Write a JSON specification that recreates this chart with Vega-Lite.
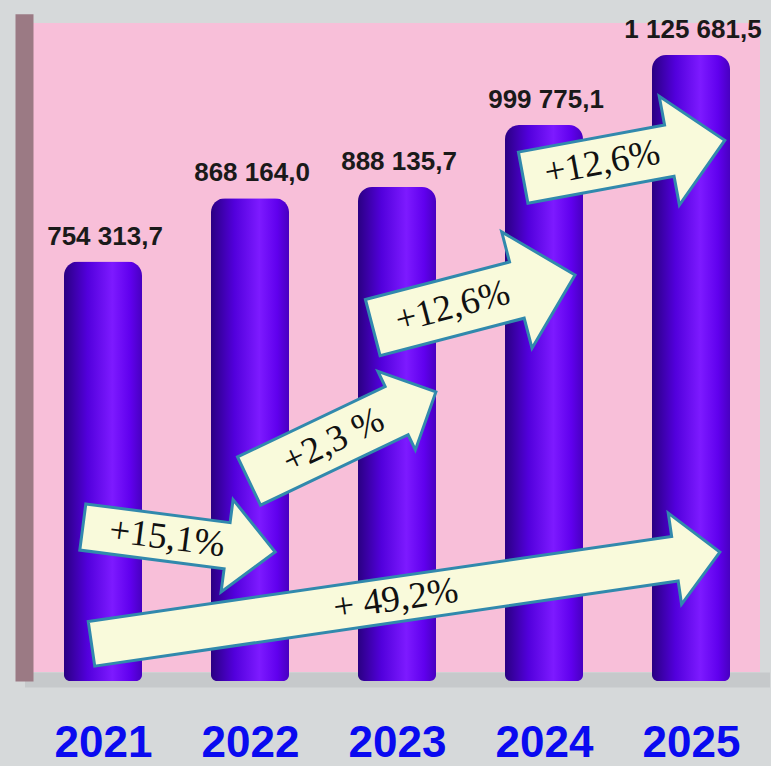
{
  "$schema": "https://vega.github.io/schema/vega-lite/v6.json",
  "width": 727,
  "height": 649,
  "autosize": {"type": "none"},
  "padding": {"left": 33, "top": 23, "right": 11, "bottom": 94},
  "config": {
    "background": "#d6d9da",
    "view": {"fill": "#f8bfd9", "stroke": null},
    "locale": {"number": {"decimal": ",", "thousands": " ", "grouping": [3], "currency": ["", ""]}}
  },
  "datasets": {
    "bars": [
      {"year": 2021, "value": 754313.7},
      {"year": 2022, "value": 868164.0},
      {"year": 2023, "value": 888135.7},
      {"year": 2024, "value": 999775.1},
      {"year": 2025, "value": 1125681.5}
    ],
    "arrows": [
      {"id": "a1", "year": 2021.517, "value": 254445, "label": "+15,1%"},
      {"id": "a2", "year": 2022.629, "value": 439660, "label": "+2,3 %"},
      {"id": "a3", "year": 2023.523, "value": 682866, "label": "+12,6%"},
      {"id": "a4", "year": 2024.544, "value": 938660, "label": "+12,6%"},
      {"id": "a5", "year": 2023.059, "value": 149251, "label": "+ 49,2%"}
    ]
  },
  "encoding": {
    "x": {
      "field": "year", "type": "quantitative",
      "scale": {"domain": [2020.5, 2025.5], "range": [-8.5, 736.5], "nice": false, "zero": false},
      "axis": {
        "values": [2021, 2022, 2023, 2024, 2025], "format": "d", "title": null,
        "grid": false, "ticks": false, "tickSize": 0, "offset": 7.5,
        "domainWidth": 15, "domainColor": "#c6c9cb",
        "labelFont": "Liberation Sans", "labelFontWeight": "bold", "labelFontSize": 44,
        "labelColor": "#0a0af0", "labelBaseline": "alphabetic", "labelPadding": 77, "labelDx": -1,
        "labelFlush": false, "labelOverlap": false
      }
    },
    "y": {
      "field": "value", "type": "quantitative",
      "scale": {"domain": [0, 1200000], "range": [658, -9.3], "nice": false, "zero": true},
      "axis": {
        "title": null, "labels": false, "ticks": false, "grid": false,
        "offset": 9, "domainWidth": 18, "domainColor": "#9b7a84"
      }
    }
  },
  "layer": [
    {
      "data": {"name": "bars"},
      "mark": {
        "type": "bar", "size": 78,
        "cornerRadiusTopLeft": 14, "cornerRadiusTopRight": 14,
        "cornerRadiusBottomLeft": 6, "cornerRadiusBottomRight": 6,
        "color": {
          "gradient": "linear", "x1": 0, "x2": 1, "y1": 0, "y2": 0,
          "stops": [
            {"offset": 0, "color": "#2a0082"},
            {"offset": 0.3, "color": "#5200dc"},
            {"offset": 0.62, "color": "#7d1aff"},
            {"offset": 0.85, "color": "#6000ee"},
            {"offset": 1, "color": "#4800c0"}
          ]
        }
      }
    },
    {
      "data": {"name": "bars"},
      "mark": {
        "type": "text", "font": "Liberation Sans", "fontWeight": "bold", "fontSize": 26,
        "color": "#1a1a1a", "align": "center", "baseline": "alphabetic", "dy": -17, "dx": 2
      },
      "encoding": {"text": {"field": "value", "type": "quantitative", "format": ",.1f"}}
    },
    {
      "data": {"name": "arrows"},
      "transform": [{"filter": "datum.id === 'a5'"}],
      "mark": {
        "type": "point", "filled": true, "opacity": 1, "fill": "#f9fadb", "stroke": "#3189ad", "strokeWidth": 3,
        "shape": "M-1,-0.071L0.857,-0.071L0.857,-0.145L1,0L0.857,0.145L0.857,0.071L-1,0.071Z",
        "size": 403225, "angle": -8.3
      }
    },
    {
      "data": {"name": "arrows"},
      "transform": [{"filter": "datum.id === 'a1'"}],
      "mark": {
        "type": "point", "filled": true, "opacity": 1, "fill": "#f9fadb", "stroke": "#3189ad", "strokeWidth": 3,
        "shape": "M-1,-0.24L0.5,-0.24L0.5,-0.48L1,0L0.5,0.48L0.5,0.24L-1,0.24Z",
        "size": 37636, "angle": 7.4
      }
    },
    {
      "data": {"name": "arrows"},
      "transform": [{"filter": "datum.id === 'a2'"}],
      "mark": {
        "type": "point", "filled": true, "opacity": 1, "fill": "#f9fadb", "stroke": "#3189ad", "strokeWidth": 3,
        "shape": "M-1,-0.258L0.58,-0.258L0.58,-0.42L1,0L0.58,0.42L0.58,0.258L-1,0.258Z",
        "size": 42849, "angle": -25.5
      }
    },
    {
      "data": {"name": "arrows"},
      "transform": [{"filter": "datum.id === 'a3'"}],
      "mark": {
        "type": "point", "filled": true, "opacity": 1, "fill": "#f9fadb", "stroke": "#3189ad", "strokeWidth": 3,
        "shape": "M-1,-0.278L0.425,-0.278L0.425,-0.575L1,0L0.425,0.575L0.425,0.278L-1,0.278Z",
        "size": 43681, "angle": -14.6
      }
    },
    {
      "data": {"name": "arrows"},
      "transform": [{"filter": "datum.id === 'a4'"}],
      "mark": {
        "type": "point", "filled": true, "opacity": 1, "fill": "#f9fadb", "stroke": "#3189ad", "strokeWidth": 3,
        "shape": "M-1,-0.254L0.45,-0.254L0.45,-0.54L1,0L0.45,0.54L0.45,0.254L-1,0.254Z",
        "size": 42025, "angle": -10.5
      }
    },
    {
      "data": {"name": "arrows"},
      "transform": [{"filter": "datum.id === 'a5'"}],
      "mark": {"type": "text", "font": "Liberation Serif", "fontSize": 37, "color": "#111111", "align": "center", "baseline": "middle", "angle": -8.3, "dx": -10},
      "encoding": {"text": {"field": "label"}}
    },
    {
      "data": {"name": "arrows"},
      "transform": [{"filter": "datum.id === 'a1'"}],
      "mark": {"type": "text", "font": "Liberation Serif", "fontSize": 37, "color": "#111111", "align": "center", "baseline": "middle", "angle": 7.4, "dx": -12},
      "encoding": {"text": {"field": "label"}}
    },
    {
      "data": {"name": "arrows"},
      "transform": [{"filter": "datum.id === 'a2'"}],
      "mark": {"type": "text", "font": "Liberation Serif", "fontSize": 37, "color": "#111111", "align": "center", "baseline": "middle", "angle": -25.5, "dx": -10},
      "encoding": {"text": {"field": "label"}}
    },
    {
      "data": {"name": "arrows"},
      "transform": [{"filter": "datum.id === 'a3'"}],
      "mark": {"type": "text", "font": "Liberation Serif", "fontSize": 37, "color": "#111111", "align": "center", "baseline": "middle", "angle": -14.6, "dx": -22},
      "encoding": {"text": {"field": "label"}}
    },
    {
      "data": {"name": "arrows"},
      "transform": [{"filter": "datum.id === 'a4'"}],
      "mark": {"type": "text", "font": "Liberation Serif", "fontSize": 37, "color": "#111111", "align": "center", "baseline": "middle", "angle": -10.5, "dx": -22},
      "encoding": {"text": {"field": "label"}}
    }
  ]
}
